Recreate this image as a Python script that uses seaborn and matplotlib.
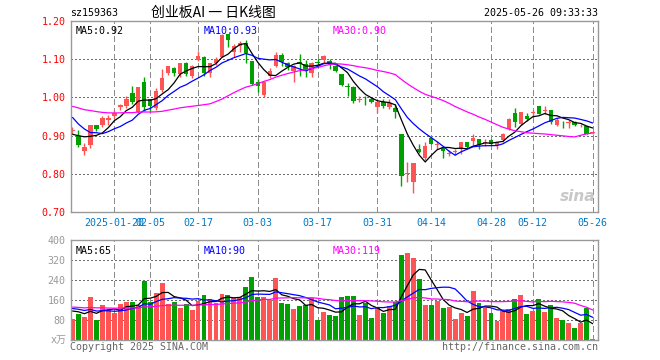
import numpy as np
import pandas as pd
import matplotlib
matplotlib.use("Agg")
import matplotlib.pyplot as plt
import seaborn as sns

# ---------------- data ----------------
tick_idx = [7, 13, 21, 31, 41, 51, 60, 70, 77, 87]
tick_labels = ["2025-01-20", "02-05", "02-17", "03-03", "03-17",
               "03-31", "04-14", "04-28", "05-12", "05-26"]

opens = [0.912, 0.898, 0.860, 0.875, 0.927, 0.927, 0.940, 0.951, 0.974, 0.977,
         1.012, 0.962, 1.041, 0.995, 0.971, 1.019, 1.065, 1.077, 1.061, 1.091,
         1.056, 1.098, 1.107, 1.065, 1.089, 1.107, 1.167, 1.118, 1.135, 1.143,
         1.094, 1.041, 1.005, 1.055, 1.082, 1.111, 1.091, 1.068, 1.092, 1.088,
         1.065, 1.093, 1.099, 1.096, 1.081, 1.061, 1.030, 1.028, 0.994, 0.994,
         0.995, 0.975, 0.989, 0.974, 0.971, 0.903, 0.800, 0.778, 0.866, 0.842,
         0.894, 0.876, 0.868, 0.852, 0.857, 0.866, 0.882, 0.886, 0.890, 0.881,
         0.888, 0.875, 0.888, 0.918, 0.958, 0.930, 0.952, 0.958, 0.977, 0.964,
         0.967, 0.927, 0.933, 0.932, 0.935, 0.924, 0.925, 0.906]
highs = [0.923, 0.914, 0.881, 0.928, 0.929, 0.951, 0.953, 0.968, 0.982, 1.003,
         1.030, 1.026, 1.054, 0.996, 1.024, 1.074, 1.082, 1.079, 1.090, 1.093,
         1.084, 1.122, 1.109, 1.091, 1.105, 1.167, 1.167, 1.140, 1.148, 1.151,
         1.094, 1.047, 1.042, 1.076, 1.118, 1.116, 1.093, 1.085, 1.113, 1.098,
         1.093, 1.101, 1.112, 1.100, 1.083, 1.062, 1.037, 1.030, 1.004, 1.003,
         1.000, 0.992, 0.995, 0.995, 0.984, 0.903, 0.831, 0.829, 0.879, 0.883,
         0.895, 0.886, 0.870, 0.861, 0.865, 0.884, 0.884, 0.904, 0.892, 0.891,
         0.892, 0.884, 0.908, 0.947, 0.971, 0.962, 0.958, 0.966, 0.978, 0.977,
         0.968, 0.946, 0.937, 0.941, 0.937, 0.930, 0.926, 0.909]
lows = [0.904, 0.870, 0.848, 0.868, 0.912, 0.923, 0.927, 0.945, 0.967, 0.971,
        0.984, 0.960, 0.965, 0.965, 0.967, 1.015, 1.059, 1.056, 1.054, 1.056,
        1.050, 1.094, 1.056, 1.053, 1.085, 1.105, 1.133, 1.105, 1.120, 1.091,
        1.032, 1.013, 1.002, 1.050, 1.080, 1.082, 1.071, 1.041, 1.056, 1.054,
        1.054, 1.081, 1.091, 1.074, 1.066, 1.030, 1.004, 0.986, 0.989, 0.980,
        0.985, 0.960, 0.973, 0.969, 0.946, 0.768, 0.778, 0.749, 0.854, 0.835,
        0.877, 0.866, 0.841, 0.846, 0.850, 0.852, 0.868, 0.873, 0.866, 0.872,
        0.876, 0.866, 0.884, 0.914, 0.923, 0.927, 0.938, 0.948, 0.956, 0.956,
        0.930, 0.925, 0.920, 0.919, 0.926, 0.922, 0.903, 0.905]
closes = [0.914, 0.875, 0.870, 0.927, 0.917, 0.946, 0.945, 0.960, 0.980, 0.996,
          0.989, 1.026, 0.975, 0.977, 1.017, 1.050, 1.082, 1.065, 1.089, 1.060,
          1.082, 1.108, 1.063, 1.089, 1.100, 1.164, 1.149, 1.135, 1.143, 1.115,
          1.036, 1.030, 1.040, 1.070, 1.110, 1.093, 1.080, 1.082, 1.088, 1.068,
          1.091, 1.091, 1.108, 1.088, 1.068, 1.032, 1.028, 0.991, 0.996, 0.992,
          0.988, 0.989, 0.977, 0.986, 0.962, 0.794, 0.803, 0.829, 0.857, 0.872,
          0.879, 0.878, 0.860, 0.855, 0.859, 0.883, 0.870, 0.894, 0.875, 0.883,
          0.879, 0.882, 0.905, 0.944, 0.936, 0.962, 0.943, 0.962, 0.956, 0.966,
          0.936, 0.940, 0.932, 0.935, 0.927, 0.926, 0.905, 0.907]
volumes = [84, 104, 92, 173, 80, 140, 120, 109, 144, 153,
           153, 140, 237, 153, 189, 229, 144, 153, 127, 144,
           120, 157, 181, 165, 147, 185, 180, 167, 173, 213,
           253, 173, 173, 160, 249, 149, 144, 125, 135, 139,
           167, 80, 113, 100, 97, 173, 177, 177, 100, 147,
           89, 127, 109, 136, 151, 340, 348, 328, 245, 140,
           140, 156, 129, 133, 84, 108, 96, 196, 149, 129,
           108, 76, 116, 124, 164, 180, 104, 116, 164, 112,
           140, 88, 79, 70, 50, 70, 130, 6]
# sessions before the visible window (estimated from where the MA lines start)
pre_closes = [1.00, 1.01, 0.99, 1.00, 1.01, 0.98, 0.97, 0.97, 0.98, 0.99,
              0.98, 0.97, 0.98, 1.00, 1.01, 0.99, 0.98, 0.99, 1.00, 1.02,
              1.05, 1.00, 1.02, 0.92, 0.97, 0.893, 0.885, 0.920, 0.905]
pre_volumes = [140, 150, 130, 125, 135, 145, 130, 120, 140, 150,
               135, 125, 130, 140, 135, 120, 130, 145, 135, 130,
               135, 140, 130, 145, 130, 120, 130, 125, 121]

# ---------------- styling ----------------
sns.set_style("white")
plt.rcParams["font.family"] = ["DejaVu Sans Mono", "Noto Sans CJK SC"]

RED = "#ff5454"
GREEN = "#00a000"
GRID = "#8c8c8c"
DOT = "#6e6e6e"
LBL = 7.2

n = len(closes)
idx = np.arange(n)
df = pd.DataFrame({"i": idx, "open": opens, "high": highs, "low": lows,
                   "close": closes, "vol": volumes})
df["dir"] = np.where(df["close"] >= df["open"], "up", "down")
palette = {"up": RED, "down": GREEN}

allc = pd.Series(pre_closes + closes)
allv = pd.Series(pre_volumes + volumes)
k = len(pre_closes)
for w in (5, 10, 30):
    df[f"ma{w}"] = allc.rolling(w).mean().iloc[k:].to_numpy()
    df[f"vma{w}"] = allv.rolling(w).mean().iloc[k:].to_numpy()

W, H = 660, 360
fig = plt.figure(figsize=(W / 100, H / 100), dpi=100)
fig.patch.set_facecolor("white")


def px_axes(x0, y0, x1, y1):
    return fig.add_axes([x0 / W, 1 - y1 / H, (x1 - x0) / W, (y1 - y0) / H])


ax = px_axes(71, 21, 598, 212)
axv = px_axes(71, 240, 598, 340)
XL = (-0.25, 87.9)


def guides(a, levels, ylim):
    for yv in levels:
        a.plot(XL, [yv, yv], color=DOT, lw=1.0, ls=(0, (1.0, 1.5)),
               antialiased=False, zorder=1, scalex=False, scaley=False)
    for t in tick_idx:
        a.plot([t, t], ylim, color=GRID, lw=1.0, ls=(0, (4.0, 2.5)),
               antialiased=False, zorder=1, scalex=False, scaley=False)


# ---------------- price panel ----------------
guides(ax, [0.8, 0.9, 1.0, 1.1], (0.70, 1.20))
ax.vlines(df["i"], df["low"], df["high"],
          colors=df["dir"].map(palette), lw=1.0, zorder=2)
body = (df["close"] - df["open"]).abs().clip(lower=0.0022)
bottom = df[["open", "close"]].min(axis=1)
ax.bar(df["i"], body, bottom=bottom, width=0.75,
       color=df["dir"].map(palette), linewidth=0, zorder=3)

sns.lineplot(data=df, x="i", y="ma5", color="black", lw=0.9, ax=ax, zorder=4)
sns.lineplot(data=df, x="i", y="ma10", color="#0000ff", lw=0.9, ax=ax, zorder=4)
sns.lineplot(data=df, x="i", y="ma30", color="#ff00ff", lw=0.9, ax=ax, zorder=4)

ax.set_xlim(*XL)
ax.set_ylim(0.70, 1.20)
pt = [0.70, 0.80, 0.90, 1.00, 1.10, 1.20]
ax.set_yticks(pt, [f"{v:.2f}" for v in pt])
ax.set_xticks(tick_idx, tick_labels)
ax.tick_params(axis="y", colors="#ff0000", labelsize=LBL, length=0, pad=4)
ax.tick_params(axis="x", labelsize=LBL, length=3, direction="in", pad=4,
               color=GRID, labelcolor="#0078c8")
ax.set_xlabel("")
ax.set_ylabel("")
for s in ax.spines.values():
    s.set_color("#999999")
    s.set_linewidth(1.0)
    s.set_zorder(5)

ax.text(0.008, 0.975, "MA5:0.92", transform=ax.transAxes, color="black",
        fontsize=LBL, va="top", ha="left", zorder=6)
ax.text(0.251, 0.975, "MA10:0.93", transform=ax.transAxes, color="#0000ff",
        fontsize=LBL, va="top", ha="left", zorder=6)
ax.text(0.497, 0.975, "MA30:0.90", transform=ax.transAxes, color="#ff00ff",
        fontsize=LBL, va="top", ha="left", zorder=6)
ax.text(0.995, 0.04, "sina", transform=ax.transAxes, color="#c8c8c8",
        fontsize=11, fontweight="bold", style="italic", ha="right",
        va="bottom", family="DejaVu Sans", zorder=1)

# ---------------- volume panel ----------------
guides(axv, [80, 160, 240, 320], (0, 400))
sns.barplot(data=df, x="i", y="vol", hue="dir", palette=palette,
            native_scale=True, width=0.82, dodge=False, legend=False,
            saturation=1, errorbar=None, linewidth=0, ax=axv, zorder=2)
sns.lineplot(data=df, x="i", y="vma5", color="black", lw=0.9, ax=axv, zorder=4)
sns.lineplot(data=df, x="i", y="vma10", color="#0000ff", lw=0.9, ax=axv, zorder=4)
sns.lineplot(data=df, x="i", y="vma30", color="#ff00ff", lw=0.9, ax=axv, zorder=4)

axv.set_xlim(*XL)
axv.set_ylim(0, 400)
vt = [80, 160, 240, 320, 400]
axv.set_yticks(vt, [str(v) for v in vt])
axv.set_xticks([])
axv.tick_params(axis="y", colors="#999999", labelsize=LBL, length=0, pad=4)
axv.set_xlabel("")
axv.set_ylabel("")
for s in axv.spines.values():
    s.set_color("#999999")
    s.set_linewidth(1.0)
    s.set_zorder(5)
axv.text(-0.008, 0.0, "x万", transform=axv.transAxes, color="#999999",
         fontsize=LBL, ha="right", va="center")

axv.text(0.008, 0.94, "MA5:65", transform=axv.transAxes, color="black",
         fontsize=LBL, va="top", ha="left", zorder=6)
axv.text(0.251, 0.94, "MA10:90", transform=axv.transAxes, color="#0000ff",
         fontsize=LBL, va="top", ha="left", zorder=6)
axv.text(0.497, 0.94, "MA30:119", transform=axv.transAxes, color="#ff00ff",
         fontsize=LBL, va="top", ha="left", zorder=6)

# ---------------- header / footer ----------------
fig.text(70 / W, 1 - 13 / H, "sz159363", fontsize=LBL, color="black",
         va="center", ha="left")
fig.text(151 / W, 1 - 13 / H, "创业板AI 一 日K线图", fontsize=10, color="black",
         va="center", ha="left", family=["Noto Sans CJK SC", "DejaVu Sans"])
fig.text(598 / W, 1 - 13 / H, "2025-05-26 09:33:33", fontsize=LBL,
         color="black", va="center", ha="right")
fig.text(70 / W, 1 - 347 / H, "Copyright 2025 SINA.COM", fontsize=LBL,
         color="#666666", va="center", ha="left")
fig.text(598 / W, 1 - 347 / H, "http://finance.sina.com.cn", fontsize=LBL,
         color="#666666", va="center", ha="right")

fig.savefig("out.png", dpi=100, facecolor="white")
